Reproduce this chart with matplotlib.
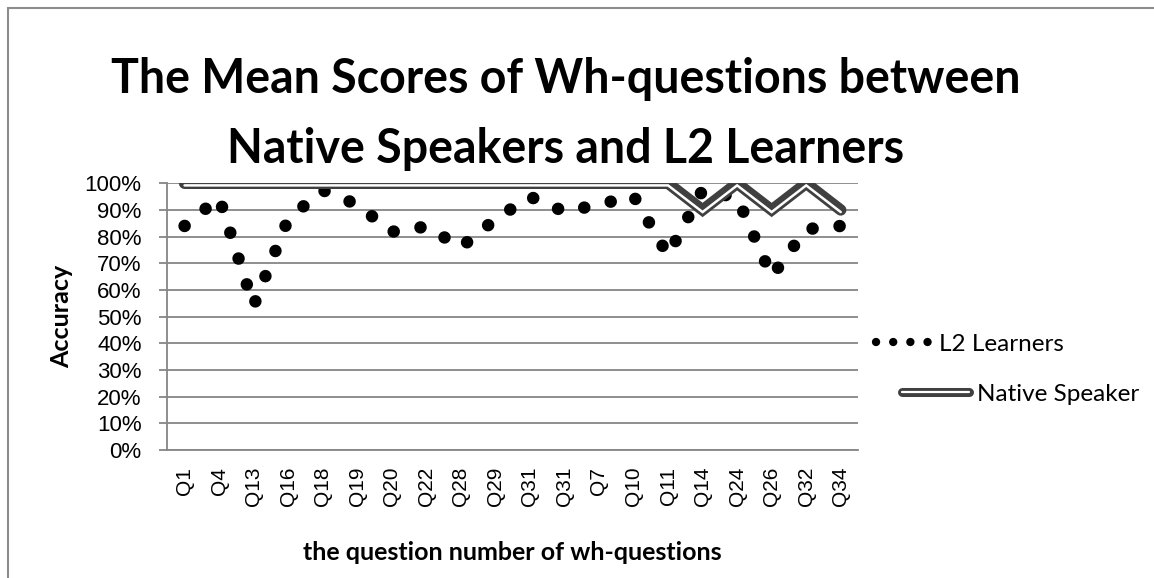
import matplotlib.pyplot as plt
import matplotlib.patheffects as pe
from matplotlib.ticker import PercentFormatter
from matplotlib.patches import Rectangle

questions = ["Q1", "Q4", "Q13", "Q16", "Q18", "Q19", "Q20", "Q22", "Q28", "Q29",
             "Q31", "Q31", "Q7", "Q10", "Q11", "Q14", "Q24", "Q26", "Q32", "Q34"]
l2_learners = [0.840, 0.946, 0.541, 0.866, 0.974, 0.920, 0.818, 0.838, 0.760, 0.865,
               0.950, 0.894, 0.920, 0.953, 0.730, 0.975, 0.946, 0.651, 0.828, 0.840]
native_speaker = [1.0, 1.0, 1.0, 1.0, 1.0, 1.0, 1.0, 1.0, 1.0, 1.0,
                  1.0, 1.0, 1.0, 1.0, 1.0, 0.9, 1.0, 0.9, 1.0, 0.9]

title_font = "Lato"
tick_font = "Liberation Sans"
grid_color = "#868686"
dark = "#404040"

W, H = 1154, 578
fig = plt.figure(figsize=(W / 100, H / 100), dpi=100)
ax = fig.add_axes([167.3 / W, 1 - 450 / H, (858 - 167.3) / W, (450 - 183.3) / H])

x = list(range(len(questions)))

double_line = [pe.Stroke(linewidth=8.2, foreground=dark, capstyle="round", joinstyle="miter"),
               pe.Stroke(linewidth=1.8, foreground="white", offset=(0, -1.5),
                         capstyle="round", joinstyle="miter")]

# round-dot dashes of a thick line give the "dots" of the L2 series
ax.plot(x, l2_learners, color="black", linewidth=9.0, linestyle=(0, (0.01, 2.159)),
        dash_capstyle="round", zorder=3)
ax.plot(x, native_speaker, color=dark, linewidth=8.2, zorder=4, path_effects=double_line)

ax.set_xlim(-0.5, len(questions) - 0.5)
ax.set_ylim(0, 1)
ax.set_yticks([i / 10 for i in range(11)])
ax.yaxis.set_major_formatter(PercentFormatter(1.0, decimals=0))
ax.set_xticks(x)
ax.set_xticklabels(questions, rotation=90, fontfamily=tick_font, fontsize=15)
for lab in ax.get_yticklabels():
    lab.set_fontfamily(tick_font)
    lab.set_fontsize(16)

ax.grid(axis="y", color=grid_color, linewidth=1.3)
ax.set_axisbelow(True)
for side in ["top", "right"]:
    ax.spines[side].set_visible(False)
for side in ["left", "bottom"]:
    ax.spines[side].set_color(grid_color)
    ax.spines[side].set_linewidth(1.3)
ax.tick_params(axis="y", length=6, width=1.3, color=grid_color, pad=12.5)
ax.tick_params(axis="x", length=0, pad=12)

ax.set_ylabel("Accuracy", fontfamily=title_font, fontweight="bold", fontsize=18, va="center")
ax.yaxis.set_label_coords((62 - 167.3) / 690.7, 0.5)
ax.set_xlabel("the question number of wh-questions", fontfamily=title_font,
              fontweight="bold", fontsize=18, va="center")
ax.xaxis.set_label_coords(0.5, (450 - 552) / 266.7)

fig.text(566 / W, 1 - 79 / H, "The Mean Scores of Wh-questions between",
         ha="center", va="center", fontfamily=title_font, fontweight="bold", fontsize=33.5)
fig.text(566 / W, 1 - 149 / H, "Native Speakers and L2 Learners",
         ha="center", va="center", fontfamily=title_font, fontweight="bold", fontsize=33.5)

# legend entries sit at different offsets in the original, so two legends
l2_proxy, = ax.plot([], [], color="black", linewidth=6, linestyle=(0, (0.01, 2.05)),
                    dash_capstyle="round")
native_proxy, = ax.plot([], [], color=dark, linewidth=6.5,
                        path_effects=[pe.Stroke(linewidth=6.5, foreground=dark, capstyle="round"),
                                      pe.Stroke(linewidth=1.6, foreground="white",
                                                capstyle="round")])
leg_font = {"family": title_font, "size": 17.5}
fig.legend([l2_proxy], ["L2 Learners"], loc="center left",
           bbox_to_anchor=(876 / W, 1 - 344 / H), frameon=False,
           borderpad=0, borderaxespad=0, handlelength=2.3, handletextpad=0.3,
           prop=leg_font)
fig.legend([native_proxy], ["Native Speaker"], loc="center left",
           bbox_to_anchor=(902 / W, 1 - 394 / H), frameon=False,
           borderpad=0, borderaxespad=0, handlelength=2.75, handletextpad=0.35,
           prop=leg_font)

fig.patches.append(Rectangle((8 / W, -0.1), 1.2, 1 - 8 / H + 0.1,
                             transform=fig.transFigure, fill=False,
                             edgecolor="#8c8c8c", linewidth=1.5))

fig.savefig("out.png", dpi=100)
